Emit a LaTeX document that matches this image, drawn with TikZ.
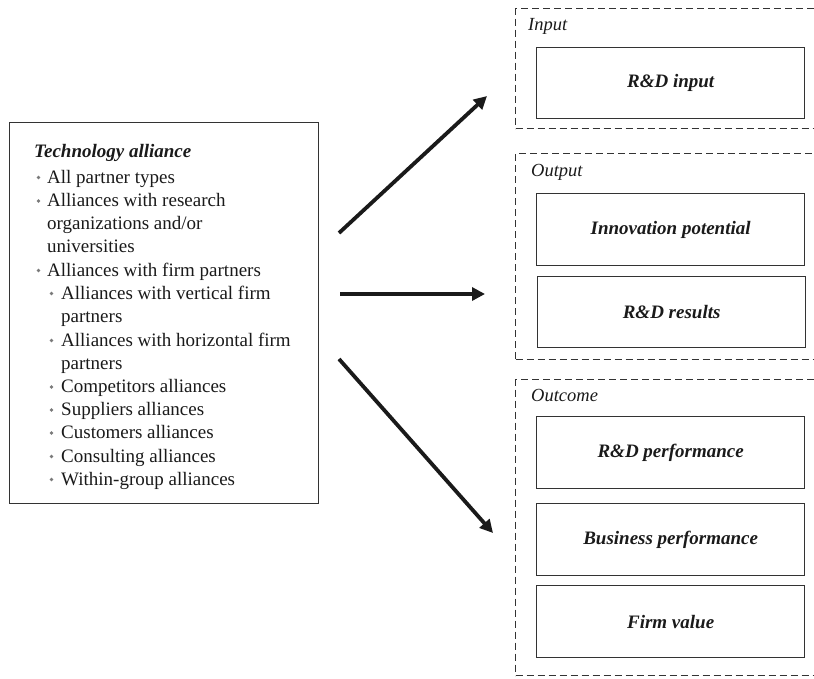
\documentclass[tikz,border=0pt]{standalone}
\usepackage{fontspec}
\setmainfont{Liberation Serif}
\usetikzlibrary{arrows.meta}
\definecolor{ink}{HTML}{1A1A1A}
\definecolor{frame}{HTML}{333333}
\definecolor{dotgray}{HTML}{7A7A7A}
\begin{document}
\begin{tikzpicture}[x=1pt,y=-1pt,
  txt/.style={anchor=base west,inner sep=0pt,font=\fontsize{19}{23}\selectfont,text=ink},
  lbl/.style={anchor=base west,inner sep=0pt,font=\fontsize{18.5}{22}\selectfont\itshape,text=ink},
  itembox/.style={draw=frame,line width=1.3pt,anchor=north west,minimum width=268pt,minimum height=71pt,inner sep=0pt,font=\fontsize{19}{23}\selectfont\bfseries\itshape,text=ink},
  groupbox/.style={draw=frame,line width=1.3pt,dash pattern=on 7pt off 4pt,anchor=north west,minimum width=320pt,inner sep=0pt},
  flow/.style={line width=3.8pt,draw=ink,-{Triangle[length=13pt,width=13pt]}},
  bul/.style={fill=dotgray}]
\clip (0,0) rectangle (814,678);
\fill[white] (0,0) rectangle (814,678);

% left box
\node[draw=frame,line width=1.3pt,anchor=north west,minimum width=309pt,minimum height=381pt,inner sep=0pt] (tech) at (9,122) {};
\node[txt,font=\fontsize{19}{23}\selectfont\bfseries\itshape] (t0) at (34,157) {Technology alliance};
\node[txt] (t1) at (47,183) {All partner types};
\node[txt] (t2) at (47,206.5) {Alliances with research};
\node[txt] (t3) at (47,229.5) {organizations and/or};
\node[txt] (t4) at (47,252.5) {universities};
\node[txt] (t5) at (47,276) {Alliances with firm partners};
\node[txt] (t6) at (61,299) {Alliances with vertical firm};
\node[txt] (t7) at (61,322.5) {partners};
\node[txt] (t8) at (61,346) {Alliances with horizontal firm};
\node[txt] (t9) at (61,369) {partners};
\node[txt] (t10) at (61,392.5) {Competitors alliances};
\node[txt] (t11) at (61,415.5) {Suppliers alliances};
\node[txt] (t12) at (61,438.5) {Customers alliances};
\node[txt] (t13) at (61,462) {Consulting alliances};
\node[txt] (t14) at (61,485) {Within-group alliances};
\foreach \yy in {183,206.5,276} {\fill[bul] (38.5,\yy-5.5) circle (1.8pt);}
\foreach \yy in {299,346,392.5,415.5,438.5,462,485} {\fill[bul] (51.5,\yy-5.5) circle (1.8pt);}

% right groups
\node[groupbox,minimum height=120pt] (ginput) at (515,8) {};
\node[lbl] (linput) at (528,30) {Input};
\node[itembox] (rdin) at (536,47) {R\&D input};

\node[groupbox,minimum height=206pt] (goutput) at (515,152.5) {};
\node[lbl] (loutput) at (531,176) {Output};
\node[itembox,minimum height=72pt] (innov) at (536,193) {Innovation potential};
\node[itembox] (rdres) at (537,276) {R\&D results};

\node[groupbox,minimum height=296pt] (goutcome) at (515,379) {};
\node[lbl] (loutcome) at (531,401) {Outcome};
\node[itembox,minimum height=72pt] (rdperf) at (536,416) {R\&D performance};
\node[itembox,minimum height=72pt] (busperf) at (536,503) {Business performance};
\node[itembox,minimum height=72pt] (fval) at (536,585) {Firm value};

% arrows
\coordinate (a1s) at (339,233);
\coordinate (a1e) at (487,96);
\coordinate (a2s) at (340,294);
\coordinate (a2e) at (485,294);
\coordinate (a3s) at (339,359);
\coordinate (a3e) at (493,533);
\draw[flow] (a1s) -- (a1e);
\draw[flow] (a2s) -- (a2e);
\draw[flow] (a3s) -- (a3e);
\end{tikzpicture}
\end{document}
